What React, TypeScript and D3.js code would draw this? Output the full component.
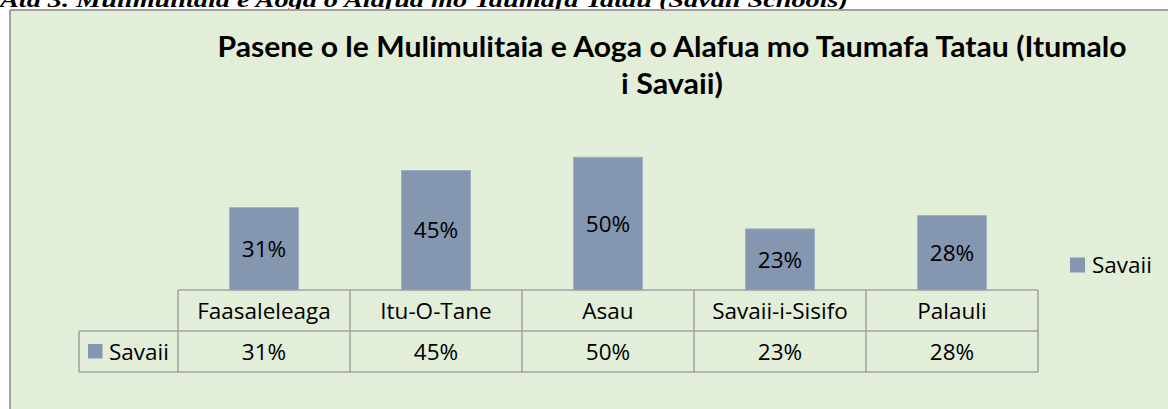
import React from "react";
import * as d3 from "d3";

const categories = ["Faasaleleaga", "Itu-O-Tane", "Asau", "Savaii-i-Sisifo", "Palauli"];
const seriesName = "Savaii";
const values = [0.31, 0.45, 0.5, 0.23, 0.28];
const titleLines = [
  "Pasene o le Mulimulitaia e Aoga o Alafua mo Taumafa Tatau (Itumalo",
  "i Savaii)",
];
const titleWidths = [909, 102];
const headerText = "Ata 3. Mulimulitaia e Aoga o Alafua mo Taumafa Tatau (Savaii Schools)";

const W = 1168;
const H = 409;
const BG = "#E3EED9";
const BAR = "#8496B0";
const GRID = "#A3A3A3";
const FONT = "'Open Sans', 'DejaVu Sans', sans-serif";
const FS = 22.5;
const CAP = FS * 0.714;

export default function App() {
  const left = 178;
  const right = 1038;
  const base = 290;
  const rowH = 41;
  const legendLeft = 79;

  const col = d3.scaleBand<string>().domain(categories).range([left, right]).padding(0);
  const barX = d3
    .scaleBand<string>()
    .domain(categories)
    .range([left, right])
    .paddingInner(0.6)
    .paddingOuter(0.3);
  const y = d3.scaleLinear().domain([0, 0.6]).range([base, base - 0.6 * 265.5]);
  const pct = d3.format(".0%");

  const row1Mid = base + rowH / 2;
  const row2Mid = base + rowH * 1.5;

  return (
    <svg
      width={W}
      height={H}
      style={{ position: "absolute", left: 0, top: 0, display: "block" }}
      fontFamily={FONT}
    >
      <rect x={0} y={0} width={W} height={H} fill="#ffffff" />
      <text
        x={0}
        y={7}
        fontFamily="'Liberation Serif', 'DejaVu Serif', serif"
        fontWeight="bold"
        fontStyle="italic"
        fontSize={21}
        textLength={848}
        lengthAdjust="spacingAndGlyphs"
        fill="#000"
      >
        {headerText}
      </text>
      <rect x={10} y={10} width={W} height={H} fill={BG} />
      <line x1={10} y1={10} x2={W} y2={10} stroke="#A0A0A0" strokeWidth={2} />
      <line x1={10} y1={10} x2={10} y2={H} stroke="#A0A0A0" strokeWidth={2} />

      {titleLines.map((t, i) => (
        <text
          key={i}
          x={672}
          y={57 + i * 37}
          textAnchor="middle"
          fontFamily="Lato, 'Open Sans', sans-serif"
          fontWeight="bold"
          fontSize={29}
          fill="#000"
          textLength={titleWidths[i]}
          lengthAdjust="spacingAndGlyphs"
        >
          {t}
        </text>
      ))}

      {categories.map((c, i) => (
        <g key={c}>
          <rect
            x={barX(c)}
            y={y(values[i])}
            width={barX.bandwidth()}
            height={base - y(values[i])}
            fill={BAR}
            stroke="#9DAEC4"
            strokeWidth={1}
          />
          <text
            x={(barX(c) as number) + barX.bandwidth() / 2}
            y={(y(values[i]) + base) / 2 + CAP / 2}
            textAnchor="middle"
            fontSize={FS}
            fill="#000"
          >
            {pct(values[i])}
          </text>
        </g>
      ))}

      {/* data table */}
      <g stroke={GRID} strokeWidth={1.6} fill="none">
        <line x1={left} y1={base} x2={right} y2={base} />
        <line x1={legendLeft} y1={base + rowH} x2={right} y2={base + rowH} />
        <line x1={legendLeft} y1={base + 2 * rowH} x2={right} y2={base + 2 * rowH} />
        <line x1={legendLeft} y1={base + rowH} x2={legendLeft} y2={base + 2 * rowH} />
        {categories.map((c) => (
          <line key={c} x1={col(c)} y1={base} x2={col(c)} y2={base + 2 * rowH} />
        ))}
        <line x1={right} y1={base} x2={right} y2={base + 2 * rowH} />
      </g>
      {categories.map((c, i) => (
        <g key={"t" + c}>
          <text
            x={(col(c) as number) + col.bandwidth() / 2}
            y={row1Mid + CAP / 2}
            textAnchor="middle"
            fontSize={FS}
            fill="#000"
          >
            {c}
          </text>
          <text
            x={(col(c) as number) + col.bandwidth() / 2}
            y={row2Mid + CAP / 2}
            textAnchor="middle"
            fontSize={FS}
            fill="#000"
          >
            {pct(values[i])}
          </text>
        </g>
      ))}
      <rect x={88} y={344} width={14.5} height={14.5} fill={BAR} />
      <text x={109} y={row2Mid + CAP / 2} fontSize={FS} fill="#000">
        {seriesName}
      </text>

      {/* right legend */}
      <rect x={1070} y={257.5} width={15} height={15} fill={BAR} />
      <text x={1092} y={265 + CAP / 2} fontSize={FS} fill="#000">
        {seriesName}
      </text>
    </svg>
  );
}
